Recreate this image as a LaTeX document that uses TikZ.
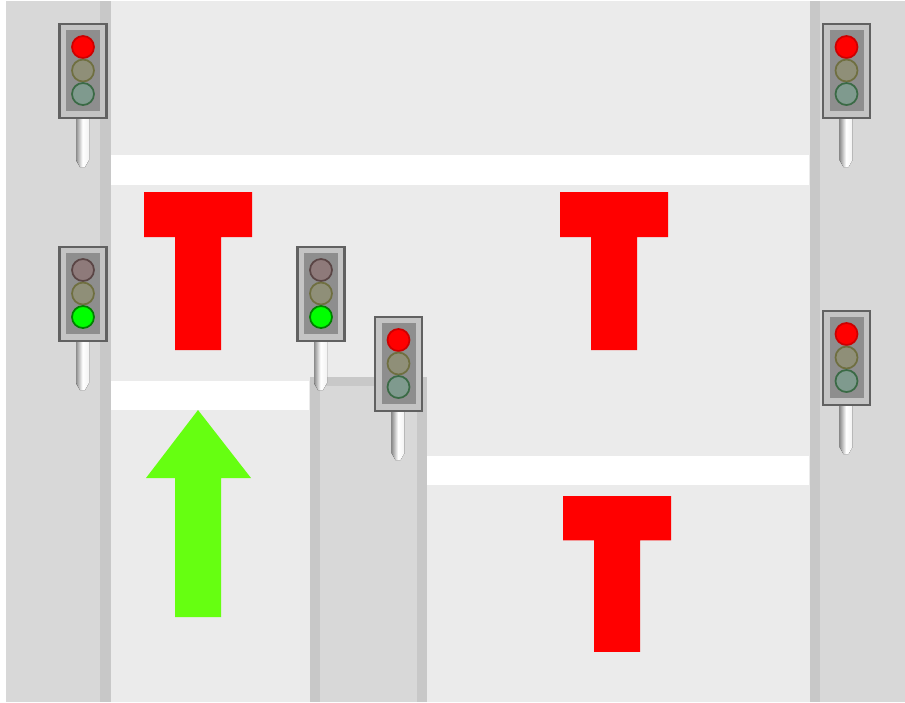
\documentclass[tikz,border=0pt]{standalone}
\usepackage{xcolor}
\definecolor{walk}{HTML}{D8D8D8}
\definecolor{kerb}{HTML}{C8C8C8}
\definecolor{road}{HTML}{EBEBEB}
\definecolor{stopred}{HTML}{FF0000}
\definecolor{goarrow}{HTML}{66FF11}
\definecolor{housing}{HTML}{8E8E8E}
\definecolor{plate}{HTML}{C4C4C4}
\definecolor{redoff}{HTML}{8E7A7A}
\definecolor{redrim}{HTML}{5A4545}
\definecolor{amberoff}{HTML}{8F8F78}
\definecolor{amberrim}{HTML}{6F6F40}
\definecolor{greenoff}{HTML}{7F9A8E}
\definecolor{greenrim}{HTML}{3A6A45}
\tikzset{
    lamp/.style={line width=0.5pt},
    pole/.style={left color=gray!90, right color=white!90!gray, middle color=white, draw=none},
    stopline/.style={fill=white, draw=none},
    pics/signal/.style n args={6}{code={
        \fill[pole] (-7,92) -- (6,92) -- (6,136) -- (2,143) -- (-3,143) -- (-7,136) -- cycle;
        \fill[plate] (-23.5,0) rectangle (23.5,94);
        \draw[black!62, line width=0.7pt] (-23.5,0) rectangle (23.5,94);
        \fill[housing] (-17,6) rectangle (17,87);
        \draw[lamp, draw=#2, fill=#1] (0,23) circle (11);
        \draw[lamp, draw=#4, fill=#3] (0,46.5) circle (11);
        \draw[lamp, draw=#6, fill=#5] (0,70) circle (11);
    }},
    pics/halt/.style={code={
        \fill[stopred] (-54,0) -- (54,0) -- (54,45) -- (23,45) -- (23,158) -- (-23,158) -- (-23,45) -- (-54,45) -- cycle;
    }}
}

\begin{document}
\begin{tikzpicture}[x=0.01cm, y=-0.01cm]
    \useasboundingbox (0,0) rectangle (905,702);
    % ground
    \fill[white] (0,0) rectangle (905,702);
    \fill[walk] (6,1) rectangle (905,702);
    \fill[road] (111,1) rectangle (810,702);
    \fill[kerb] (100,1) rectangle (111,702);
    \fill[kerb] (810,1) rectangle (820,702);
    % island
    \fill[kerb] (310,377) rectangle (427,702);
    \fill[walk] (320,386) rectangle (417,702);
    % stop lines
    \fill[stopline] (111,155) rectangle (809,185);
    \fill[stopline] (111,381) rectangle (309,410);
    \fill[stopline] (427,456) rectangle (809,485);
    % markings
    \pic at (198,192) {halt};
    \pic at (614,192) {halt};
    \pic[yscale=0.987] at (617,496) {halt};
    \fill[goarrow] (198,410) -- (251,478) -- (221,478) -- (221,617) -- (175,617) -- (175,478) -- (146,478) -- cycle;
    % signals
    \foreach \x/\y in {83/24,846.5/24,398.5/317,846.5/311} {
        \pic at (\x,\y) {signal={stopred}{stopred!80!black}{amberoff}{amberrim}{greenoff}{greenrim}};
    }
    \foreach \x/\y in {83/247,321/247} {
        \pic at (\x,\y) {signal={redoff}{redrim}{amberoff}{amberrim}{green}{green!50!black}};
    }
\end{tikzpicture}
\end{document}
